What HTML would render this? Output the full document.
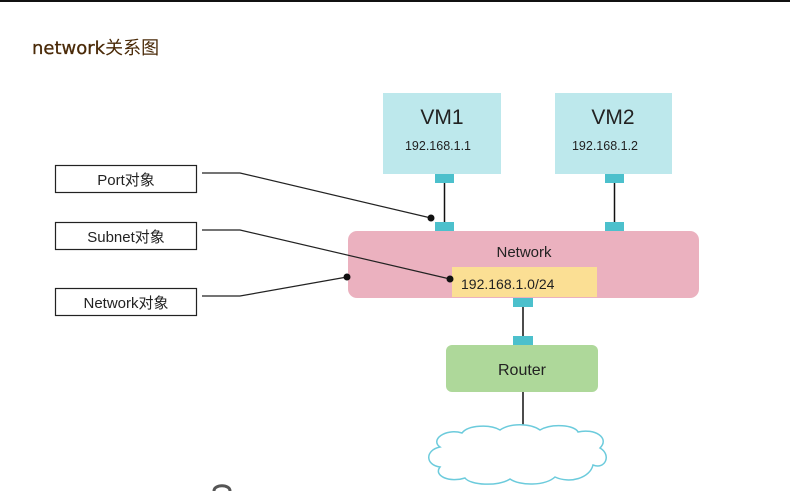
<!DOCTYPE html>
<html><head><meta charset="utf-8"><style>
html,body{margin:0;padding:0;background:#fff;}
body{width:790px;height:491px;overflow:hidden;position:relative;font-family:"Liberation Sans","Noto Sans CJK SC",sans-serif;}
</style></head><body>
<svg width="790" height="491" viewBox="0 0 790 491" xmlns="http://www.w3.org/2000/svg" style="position:absolute;left:0;top:0">
<line x1="0" y1="1" x2="790" y2="1" stroke="#111" stroke-width="2"/>
<text x="32" y="54" font-size="18" fill="#4a2a08" stroke="#4a2a08" stroke-width="0.3" font-family="DejaVu Sans, 'Noto Sans CJK SC', sans-serif">network<tspan stroke-width="0">关系图</tspan></text>
<rect x="383" y="93" width="118" height="81" fill="#bde8ec"/>
<text x="442" y="124" font-size="21" fill="#222" text-anchor="middle">VM1</text>
<text x="438" y="150" font-size="12.5" fill="#222" text-anchor="middle">192.168.1.1</text>
<rect x="555" y="93" width="117" height="81" fill="#bde8ec"/>
<text x="613" y="124" font-size="21" fill="#222" text-anchor="middle">VM2</text>
<text x="605" y="150" font-size="12.5" fill="#222" text-anchor="middle">192.168.1.2</text>
<line x1="444.5" y1="183" x2="444.5" y2="222" stroke="#111" stroke-width="1.5"/>
<line x1="614.5" y1="183" x2="614.5" y2="222" stroke="#111" stroke-width="1.5"/>
<rect x="435" y="174" width="19" height="9" fill="#4cc0cc"/>
<rect x="435" y="222" width="19" height="9" fill="#4cc0cc"/>
<rect x="605" y="174" width="19" height="9" fill="#4cc0cc"/>
<rect x="605" y="222" width="19" height="9" fill="#4cc0cc"/>
<rect x="348" y="231" width="351" height="67" rx="9" fill="#ebb1bf"/>
<text x="524" y="257" font-size="15" fill="#222" text-anchor="middle">Network</text>
<rect x="452" y="267" width="145" height="30" fill="#fbdf94"/>
<text x="461" y="289" font-size="14" fill="#222">192.168.1.0/24</text>
<rect x="513" y="298" width="20" height="9" fill="#4cc0cc"/>
<line x1="523" y1="307" x2="523" y2="336" stroke="#111" stroke-width="1.5"/>
<rect x="513" y="336" width="20" height="9" fill="#4cc0cc"/>
<rect x="446" y="345" width="152" height="47" rx="6" fill="#aed89a"/>
<text x="522" y="375" font-size="16" fill="#222" text-anchor="middle">Router</text>
<line x1="523" y1="392" x2="523" y2="431" stroke="#111" stroke-width="1.5"/>
<path d="M440,447 C430,440 445,428 462,433 C468,425 490,424 500,430 C510,423 530,423 540,430 C552,423 575,425 578,432 C595,428 610,438 600,448 C612,455 605,470 593,465 C590,478 570,484 555,477 C545,486 520,486 510,479 C498,487 470,485 465,478 C450,483 433,476 440,467 C425,465 425,450 440,447 Z" fill="#fff" stroke="#6ccbdc" stroke-width="1.5"/>
<rect x="55.5" y="165.5" width="141" height="27" fill="#fff" stroke="#222" stroke-width="1.2"/>
<text x="126" y="185" font-size="15" fill="#222" text-anchor="middle">Port对象</text>
<rect x="55.5" y="222.5" width="141" height="27" fill="#fff" stroke="#222" stroke-width="1.2"/>
<text x="126" y="242" font-size="15" fill="#222" text-anchor="middle">Subnet对象</text>
<rect x="55.5" y="288.5" width="141" height="27" fill="#fff" stroke="#222" stroke-width="1.2"/>
<text x="126" y="308" font-size="15" fill="#222" text-anchor="middle">Network对象</text>
<polyline points="202,173 240,173 431,218" fill="none" stroke="#222" stroke-width="1.2"/>
<circle cx="431" cy="218" r="3.5" fill="#111"/>
<polyline points="202,230 240,230 450,279" fill="none" stroke="#222" stroke-width="1.2"/>
<circle cx="450" cy="279" r="3.5" fill="#111"/>
<polyline points="202,296 240,296 347,277" fill="none" stroke="#222" stroke-width="1.2"/>
<circle cx="347" cy="277" r="3.5" fill="#111"/>
<path d="M214,491 C214,484 230,484 230,491" fill="none" stroke="#555" stroke-width="3"/>
</svg>
</body></html>
